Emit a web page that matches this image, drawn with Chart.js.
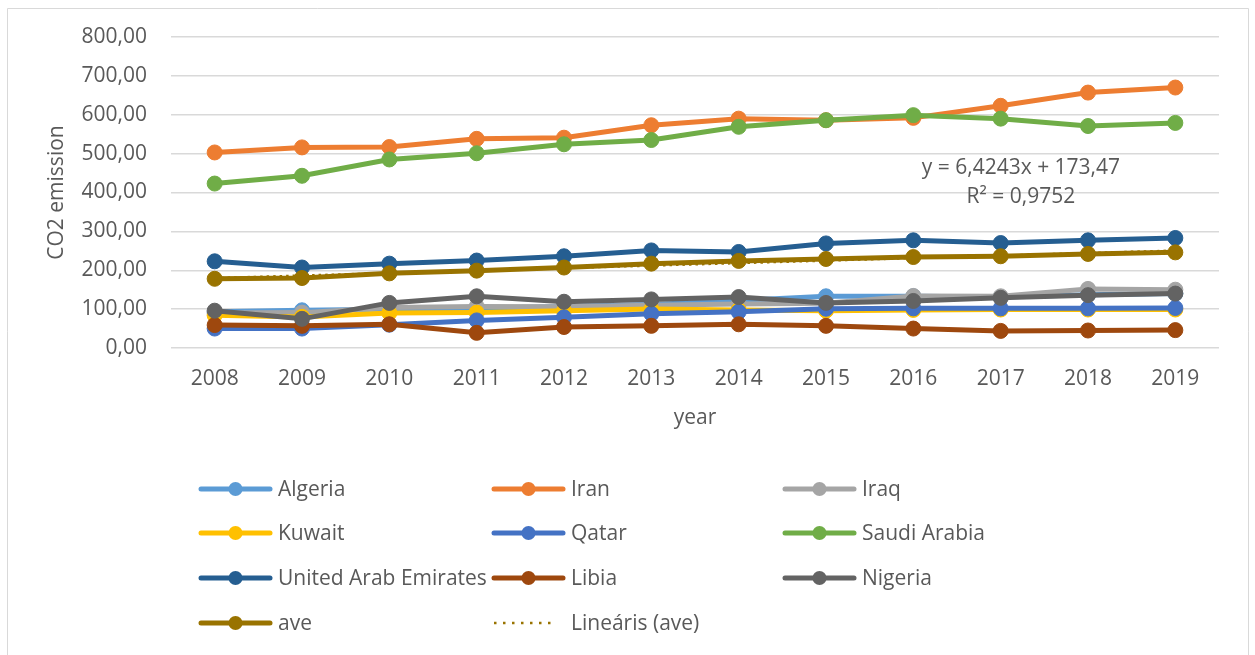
<!DOCTYPE html>
<html>
<head>
<meta charset="utf-8">
<script src="https://cdn.jsdelivr.net/npm/chart.js@4.4.0/dist/chart.umd.min.js"></script>
<style>
  html, body { margin: 0; padding: 0; background: #ffffff; }
  #wrap { width: 1255px; height: 655px; position: relative; }
</style>
</head>
<body>
<div id="wrap"><canvas id="c" width="1255" height="655"></canvas></div>
<script>
// CO2 emission by country, 2008–2019
const years = ['2008','2009','2010','2011','2012','2013','2014','2015','2016','2017','2018','2019'];
const algeria = [93, 97, 100, 102, 107, 112, 122, 133, 133, 131, 137, 140];
const iran    = [503, 516, 517, 538, 541, 573, 590, 586, 592, 623, 657, 670];
const iraq    = [90, 91, 104, 107, 106, 110, 113, 115, 134, 133, 152, 150];
const kuwait  = [84, 80, 90, 91, 96, 100, 98, 96, 98, 99, 99, 99];
const qatar   = [50, 50, 60, 71, 79, 88, 93, 101, 102, 102, 102, 103];
const saudi   = [423, 443, 485, 501, 524, 535, 569, 586, 599, 590, 571, 579];
const uae     = [223, 207, 217, 225, 236, 251, 247, 269, 277, 270, 277, 283];
const libia   = [59, 57, 61, 39, 54, 57, 61, 57, 50, 44, 45, 46];
const nigeria = [96, 75, 116, 133, 119, 125, 131, 116, 121, 129, 136, 140];
const ave     = [178, 180, 192, 199, 207, 217, 224, 229, 234, 236, 242, 246];

// Linear trendline of "ave" (x = 1..12), as printed on the chart
const trendSlope = 6.4243;
const trendIntercept = 173.47;
const trendR2 = 0.9752;
const trendLine = years.map((_, i) =>
  (i === 0 || i === years.length - 1) ? trendSlope * (i + 1) + trendIntercept : null);

const yTicks = { min: 0, max: 800, step: 100 };

const FONT = '"Open Sans", sans-serif';
const FS = 21;
const TEXT = '#595959';
const GRID = '#D9D9D9';

function series(label, data, color, order) {
  return {
    label, data, order,
    borderColor: color, backgroundColor: color,
    pointBackgroundColor: color, pointBorderColor: color,
    borderWidth: 5, pointRadius: 7.5, pointBorderWidth: 1,
    tension: 0, fill: false
  };
}

const datasets = [
  series('Algeria', algeria, '#5B9BD5', 11),
  series('Iran', iran, '#ED7D31', 10),
  series('Iraq', iraq, '#A5A5A5', 9),
  series('Kuwait', kuwait, '#FFC000', 8),
  series('Qatar', qatar, '#4472C4', 7),
  series('Saudi Arabia', saudi, '#70AD47', 6),
  series('United Arab Emirates', uae, '#255E91', 5),
  series('Libia', libia, '#9E480E', 4),
  series('Nigeria', nigeria, '#636363', 3),
  series('ave', ave, '#997300', 2),
  {
    label: 'Lineáris (ave)', data: trendLine, order: 1, trend: true,
    borderColor: '#997300', borderWidth: 2.5, borderDash: [2.5, 4],
    pointRadius: 0, spanGaps: true, fill: false
  }
];

// Frame, legend grid and the trendline equation
const decor = {
  id: 'decor',
  beforeDraw(chart) {
    const ctx = chart.ctx;
    ctx.save();
    ctx.fillStyle = '#ffffff';
    ctx.fillRect(0, 0, chart.width, chart.height);
    ctx.strokeStyle = GRID;
    ctx.lineWidth = 1;
    ctx.beginPath();
    ctx.moveTo(7.5, chart.height);
    ctx.lineTo(7.5, 8.5);
    ctx.lineTo(1248.5, 8.5);
    ctx.lineTo(1248.5, chart.height);
    ctx.stroke();
    ctx.restore();
  },
  afterDraw(chart) {
    const ctx = chart.ctx;
    const area = chart.chartArea;
    ctx.save();
    // trendline equation
    ctx.fillStyle = TEXT;
    ctx.font = FS + 'px ' + FONT;
    ctx.textAlign = 'center';
    ctx.textBaseline = 'middle';
    const ex = area.left + (area.right - area.left) * 0.811;
    const fmt = (v, d) => v.toFixed(d).replace('.', ',');
    ctx.fillText('y = ' + fmt(trendSlope, 4) + 'x + ' + fmt(trendIntercept, 2), ex, 168);
    ctx.fillText('R² = ' + fmt(trendR2, 4), ex, 197);

    // legend: three columns, four rows
    const textX = [278, 571, 862];
    const rowY = [489, 533, 578, 623];
    ctx.textAlign = 'left';
    chart.data.datasets.forEach((ds, i) => {
      const col = i % 3, row = Math.floor(i / 3);
      const tx = textX[col], y = rowY[row];
      const x0 = tx - 77, x1 = tx - 8;
      ctx.strokeStyle = ds.borderColor;
      if (ds.trend) {
        ctx.lineWidth = 2.5;
        ctx.setLineDash([2.5, 6.5]);
        ctx.lineCap = 'butt';
        ctx.beginPath();
        ctx.moveTo(x0, y);
        ctx.lineTo(x1 - 6, y);
        ctx.stroke();
        ctx.setLineDash([]);
      } else {
        ctx.lineWidth = 5;
        ctx.lineCap = 'round';
        ctx.beginPath();
        ctx.moveTo(x0, y);
        ctx.lineTo(x1, y);
        ctx.stroke();
        ctx.fillStyle = ds.borderColor;
        ctx.beginPath();
        ctx.arc((x0 + x1) / 2, y, 7, 0, Math.PI * 2);
        ctx.fill();
      }
      ctx.fillStyle = TEXT;
      ctx.font = FS + 'px ' + FONT;
      ctx.fillText(ds.label, tx, y + 1);
    });
    ctx.restore();
  }
};

new Chart(document.getElementById('c'), {
  type: 'line',
  data: { labels: years, datasets },
  plugins: [decor],
  options: {
    responsive: false,
    animation: false,
    devicePixelRatio: 1,
    layout: { padding: { left: 0, top: 37, right: 36, bottom: 207 } },
    plugins: { legend: { display: false }, tooltip: { enabled: false } },
    scales: {
      x: {
        offset: true,
        grid: { display: false, drawTicks: false },
        border: { display: false },
        ticks: { color: TEXT, font: { family: FONT, size: FS }, padding: 18, maxRotation: 0 },
        title: { display: true, text: 'year', color: TEXT, font: { family: FONT, size: FS }, padding: { top: 0, bottom: 17 } },
        afterFit(scale) { scale.height = 100; }
      },
      y: {
        min: yTicks.min, max: yTicks.max,
        grid: { color: GRID, lineWidth: 1.5, drawTicks: false },
        border: { display: false },
        ticks: {
          stepSize: yTicks.step, color: TEXT, padding: 24,
          font: { family: FONT, size: FS },
          callback: v => v.toFixed(2).replace('.', ',')
        },
        title: { display: true, text: 'CO2 emission', color: TEXT, font: { family: FONT, size: FS }, padding: { top: 44, bottom: 0 } },
        afterFit(scale) { scale.width = 171; }
      }
    }
  }
});
</script>
</body>
</html>
